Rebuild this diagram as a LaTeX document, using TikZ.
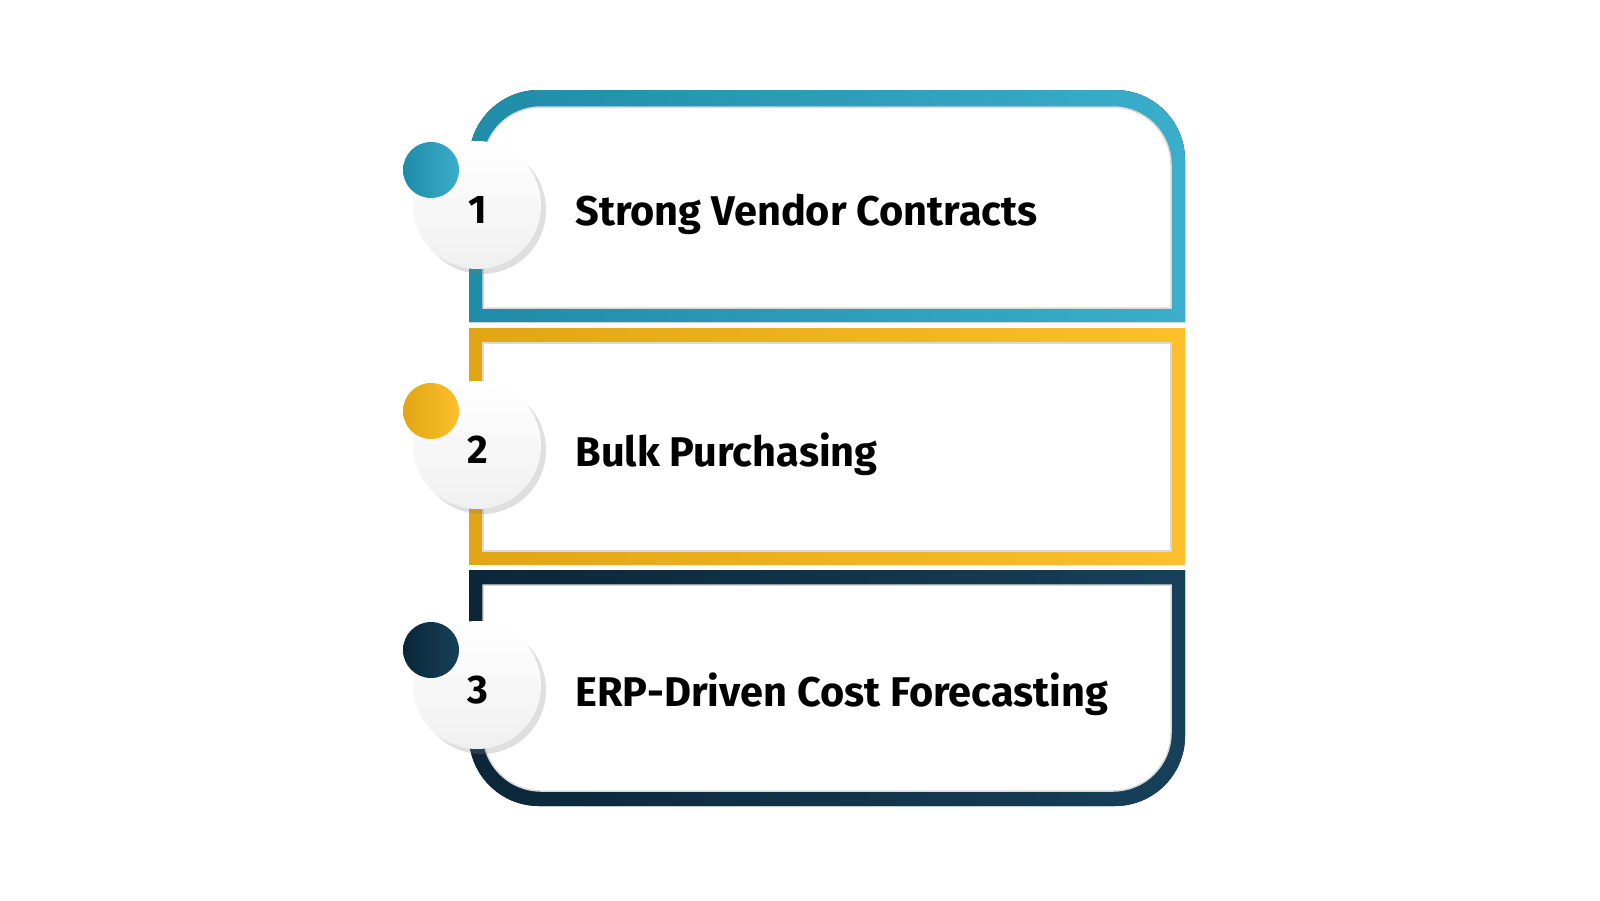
\documentclass[tikz,border=0pt]{standalone}
\usepackage{fontspec}
\setmainfont{Fira Sans}
\usetikzlibrary{shadows}
\definecolor{tealA}{HTML}{1F8CA8}\definecolor{tealB}{HTML}{3AAECB}
\definecolor{goldA}{HTML}{E2A513}\definecolor{goldB}{HTML}{FBC02C}
\definecolor{navyA}{HTML}{0B2638}\definecolor{navyB}{HTML}{17405A}
\tikzset{inner/.style={fill=white,draw=black!15,line width=1.5pt},
 disc/.style={circle,minimum size=128pt,inner sep=0pt,top color=white,bottom color=black!6,drop shadow={shadow xshift=5pt,shadow yshift=-5pt,opacity=.25}},
 dot/.style={circle,minimum size=56pt,inner sep=0pt},
 num/.style={font=\bfseries\fontsize{40}{42}\selectfont},
 lbl/.style={anchor=west,font=\bfseries\fontsize{41.5}{44}\selectfont}}
\begin{document}
\begin{tikzpicture}[x=1pt,y=-1pt]
\useasboundingbox[fill=white] (0,0) rectangle (1600,900);
% box 1
\fill[left color=tealA,right color=tealB] (469,322) -- (469,160) arc[start angle=180,end angle=270,radius=70] -- (1115,90) arc[start angle=270,end angle=360,radius=70] -- (1185,322) -- cycle;
\path[inner] (483,308) -- (483,165) arc[start angle=180,end angle=270,radius=58] -- (1113,107) arc[start angle=270,end angle=360,radius=58] -- (1171,308) -- cycle;
% box 2
\fill[left color=goldA,right color=goldB] (469,328) rectangle (1185,564);
\path[inner] (483,343) rectangle (1171,551);
% box 3
\fill[left color=navyA,right color=navyB] (469,570) -- (469,736) arc[start angle=180,end angle=90,radius=70] -- (1115,806) arc[start angle=90,end angle=0,radius=70] -- (1185,570) -- cycle;
\path[inner] (483,585) -- (483,733) arc[start angle=180,end angle=90,radius=58] -- (1113,791) arc[start angle=90,end angle=0,radius=58] -- (1171,585) -- cycle;
% circles
\node[disc] (c1) at (477,205) {};
\node[disc] (c2) at (477,445) {};
\node[disc] (c3) at (477,685) {};
\node[dot,left color=tealA,right color=tealB] (d1) at (431,170) {};
\node[dot,left color=goldA,right color=goldB] (d2) at (431,411) {};
\node[dot,left color=navyA,right color=navyB] (d3) at (431,650) {};
\node[num] (n1) at (478,210) {1};
\node[num] (n2) at (478,450) {2};
\node[num] (n3) at (478,690) {3};
\node[lbl] (t1) at (572,214) {Strong Vendor Contracts};
\node[lbl] (t2) at (572,454) {Bulk Purchasing};
\node[lbl] (t3) at (572,694) {ERP-Driven Cost Forecasting};
\end{tikzpicture}
\end{document}
